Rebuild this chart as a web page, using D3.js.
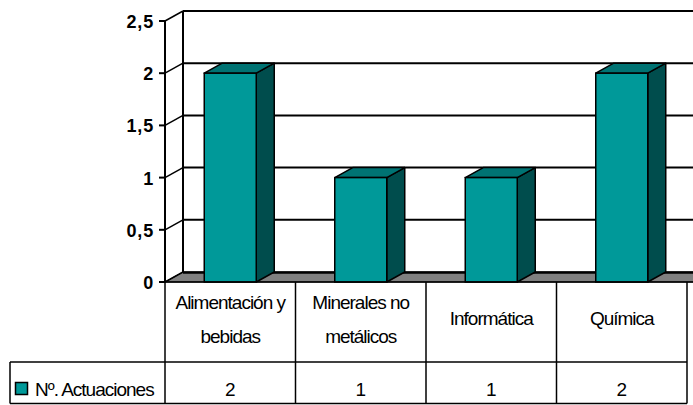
<!DOCTYPE html>
<html>
<head>
<meta charset="utf-8">
<script src="https://cdn.jsdelivr.net/npm/d3@7"></script>
<style>
  html, body { margin: 0; padding: 0; background: #fff; }
  svg { display: block; font-family: "Liberation Sans", Arial, sans-serif; }
</style>
</head>
<body>
<svg id="chart" width="693" height="405"></svg>
<script>
const categories = [["Alimentación y", "bebidas"], ["Minerales no", "metálicos"], ["Informática"], ["Química"]];
const values = [2, 1, 1, 2];
const seriesName = "Nº. Actuaciones";
const yTicks = [0, 0.5, 1, 1.5, 2, 2.5];

const width = 693, height = 405;
const depthX = 18, depthY = 10;
const left = 165, right = 687;
const yFront = d3.scaleLinear().domain([0, 2.5]).range([282, 21]);
const x = d3.scaleBand().domain(d3.range(categories.length)).range([left, right]);
const barW = 52;
const fmt = (v) => String(v).replace(".", ",");

const svg = d3.select("#chart");

// floor
const y0 = yFront(0);
svg.append("path")
  .attr("d", `M${left},${y0} L${left + depthX},${y0 - depthY} L${width + 2},${y0 - depthY} L${width + 2},${y0} Z`)
  .attr("fill", "#808080")
  .attr("stroke", "#000")
  .attr("stroke-width", 1);
svg.append("line")
  .attr("x1", left + depthX).attr("x2", width)
  .attr("y1", y0 - depthY + 0.5).attr("y2", y0 - depthY + 0.5)
  .attr("stroke", "#000").attr("stroke-width", 2.5);

// back wall grid + side wall diagonals
const grid = svg.append("g");
yTicks.forEach((t) => {
  const yf = yFront(t);
  if (t > 0) {
    grid.append("line")
      .attr("x1", left + depthX).attr("x2", width)
      .attr("y1", yf - depthY).attr("y2", yf - depthY)
      .attr("stroke", "#000").attr("stroke-width", 2);
  }
  grid.append("line")
    .attr("x1", left).attr("x2", left + depthX)
    .attr("y1", yf).attr("y2", yf - depthY)
    .attr("stroke", "#000").attr("stroke-width", 1.5);
});
grid.append("line")
  .attr("x1", left + depthX).attr("x2", left + depthX)
  .attr("y1", yFront(2.5) - depthY).attr("y2", y0 - depthY)
  .attr("stroke", "#000").attr("stroke-width", 2);

// front y axis
const axis = svg.append("g");
axis.append("line")
  .attr("x1", left).attr("x2", left)
  .attr("y1", yFront(2.5)).attr("y2", y0 + 1)
  .attr("stroke", "#000").attr("stroke-width", 2);
yTicks.forEach((t) => {
  axis.append("line")
    .attr("x1", left - 6).attr("x2", left)
    .attr("y1", yFront(t)).attr("y2", yFront(t))
    .attr("stroke", "#000").attr("stroke-width", 2);
  axis.append("text")
    .attr("x", left - 11).attr("y", yFront(t) + 7)
    .attr("text-anchor", "end")
    .attr("font-size", 18).attr("font-weight", "bold")
    .attr("letter-spacing", 0.8)
    .text(fmt(t));
});

// bars
const bars = svg.append("g");
values.forEach((v, i) => {
  const cx = x(i) + x.bandwidth() / 2;
  const x0 = cx - barW / 2, x1 = cx + barW / 2;
  const yt = yFront(v);
  bars.append("path")
    .attr("d", `M${x1},${y0} L${x1 + depthX},${y0 - depthY} L${x1 + depthX},${yt - depthY} L${x1},${yt} Z`)
    .attr("fill", "#004d4d").attr("stroke", "#000").attr("stroke-width", 1.5)
    .attr("stroke-linejoin", "round");
  bars.append("path")
    .attr("d", `M${x0},${yt} L${x0 + depthX},${yt - depthY} L${x1 + depthX},${yt - depthY} L${x1},${yt} Z`)
    .attr("fill", "#007373").attr("stroke", "#000").attr("stroke-width", 1.5)
    .attr("stroke-linejoin", "round");
  bars.append("rect")
    .attr("x", x0).attr("y", yt).attr("width", barW).attr("height", y0 - yt)
    .attr("fill", "#009999").attr("stroke", "#000").attr("stroke-width", 1.5);
});

// data table
const tbl = svg.append("g").attr("stroke", "#000").attr("stroke-width", 1.5);
const rowTop = y0, rowMid = 362, rowBot = 403.5, legLeft = 10;
tbl.append("line").attr("x1", left).attr("x2", width).attr("y1", rowTop).attr("y2", rowTop);
tbl.append("line").attr("x1", legLeft).attr("x2", right).attr("y1", rowMid).attr("y2", rowMid);
tbl.append("line").attr("x1", legLeft).attr("x2", right).attr("y1", rowBot).attr("y2", rowBot);
tbl.append("line").attr("x1", legLeft).attr("x2", legLeft).attr("y1", rowMid).attr("y2", rowBot);
d3.range(categories.length + 1).forEach((i) => {
  const xx = i < categories.length ? x(i) : right;
  tbl.append("line").attr("x1", xx).attr("x2", xx).attr("y1", rowTop).attr("y2", rowBot);
});

const labels = svg.append("g").attr("font-size", 19).attr("letter-spacing", -1).attr("text-anchor", "middle");
categories.forEach((lines, i) => {
  const cx = x(i) + x.bandwidth() / 2;
  const startY = lines.length === 1 ? 325 : 309;
  lines.forEach((ln, j) => {
    labels.append("text").attr("x", cx).attr("y", startY + j * 34).text(ln);
  });
  labels.append("text").attr("x", cx).attr("y", 396).attr("letter-spacing", 0).text(values[i]);
});

svg.append("rect")
  .attr("x", 15.5).attr("y", 382.5).attr("width", 12).attr("height", 12)
  .attr("fill", "#009999").attr("stroke", "#000").attr("stroke-width", 1.5);
svg.append("text")
  .attr("x", 35).attr("y", 396)
  .attr("font-size", 19).attr("letter-spacing", -1)
  .text(seriesName);
</script>
</body>
</html>
